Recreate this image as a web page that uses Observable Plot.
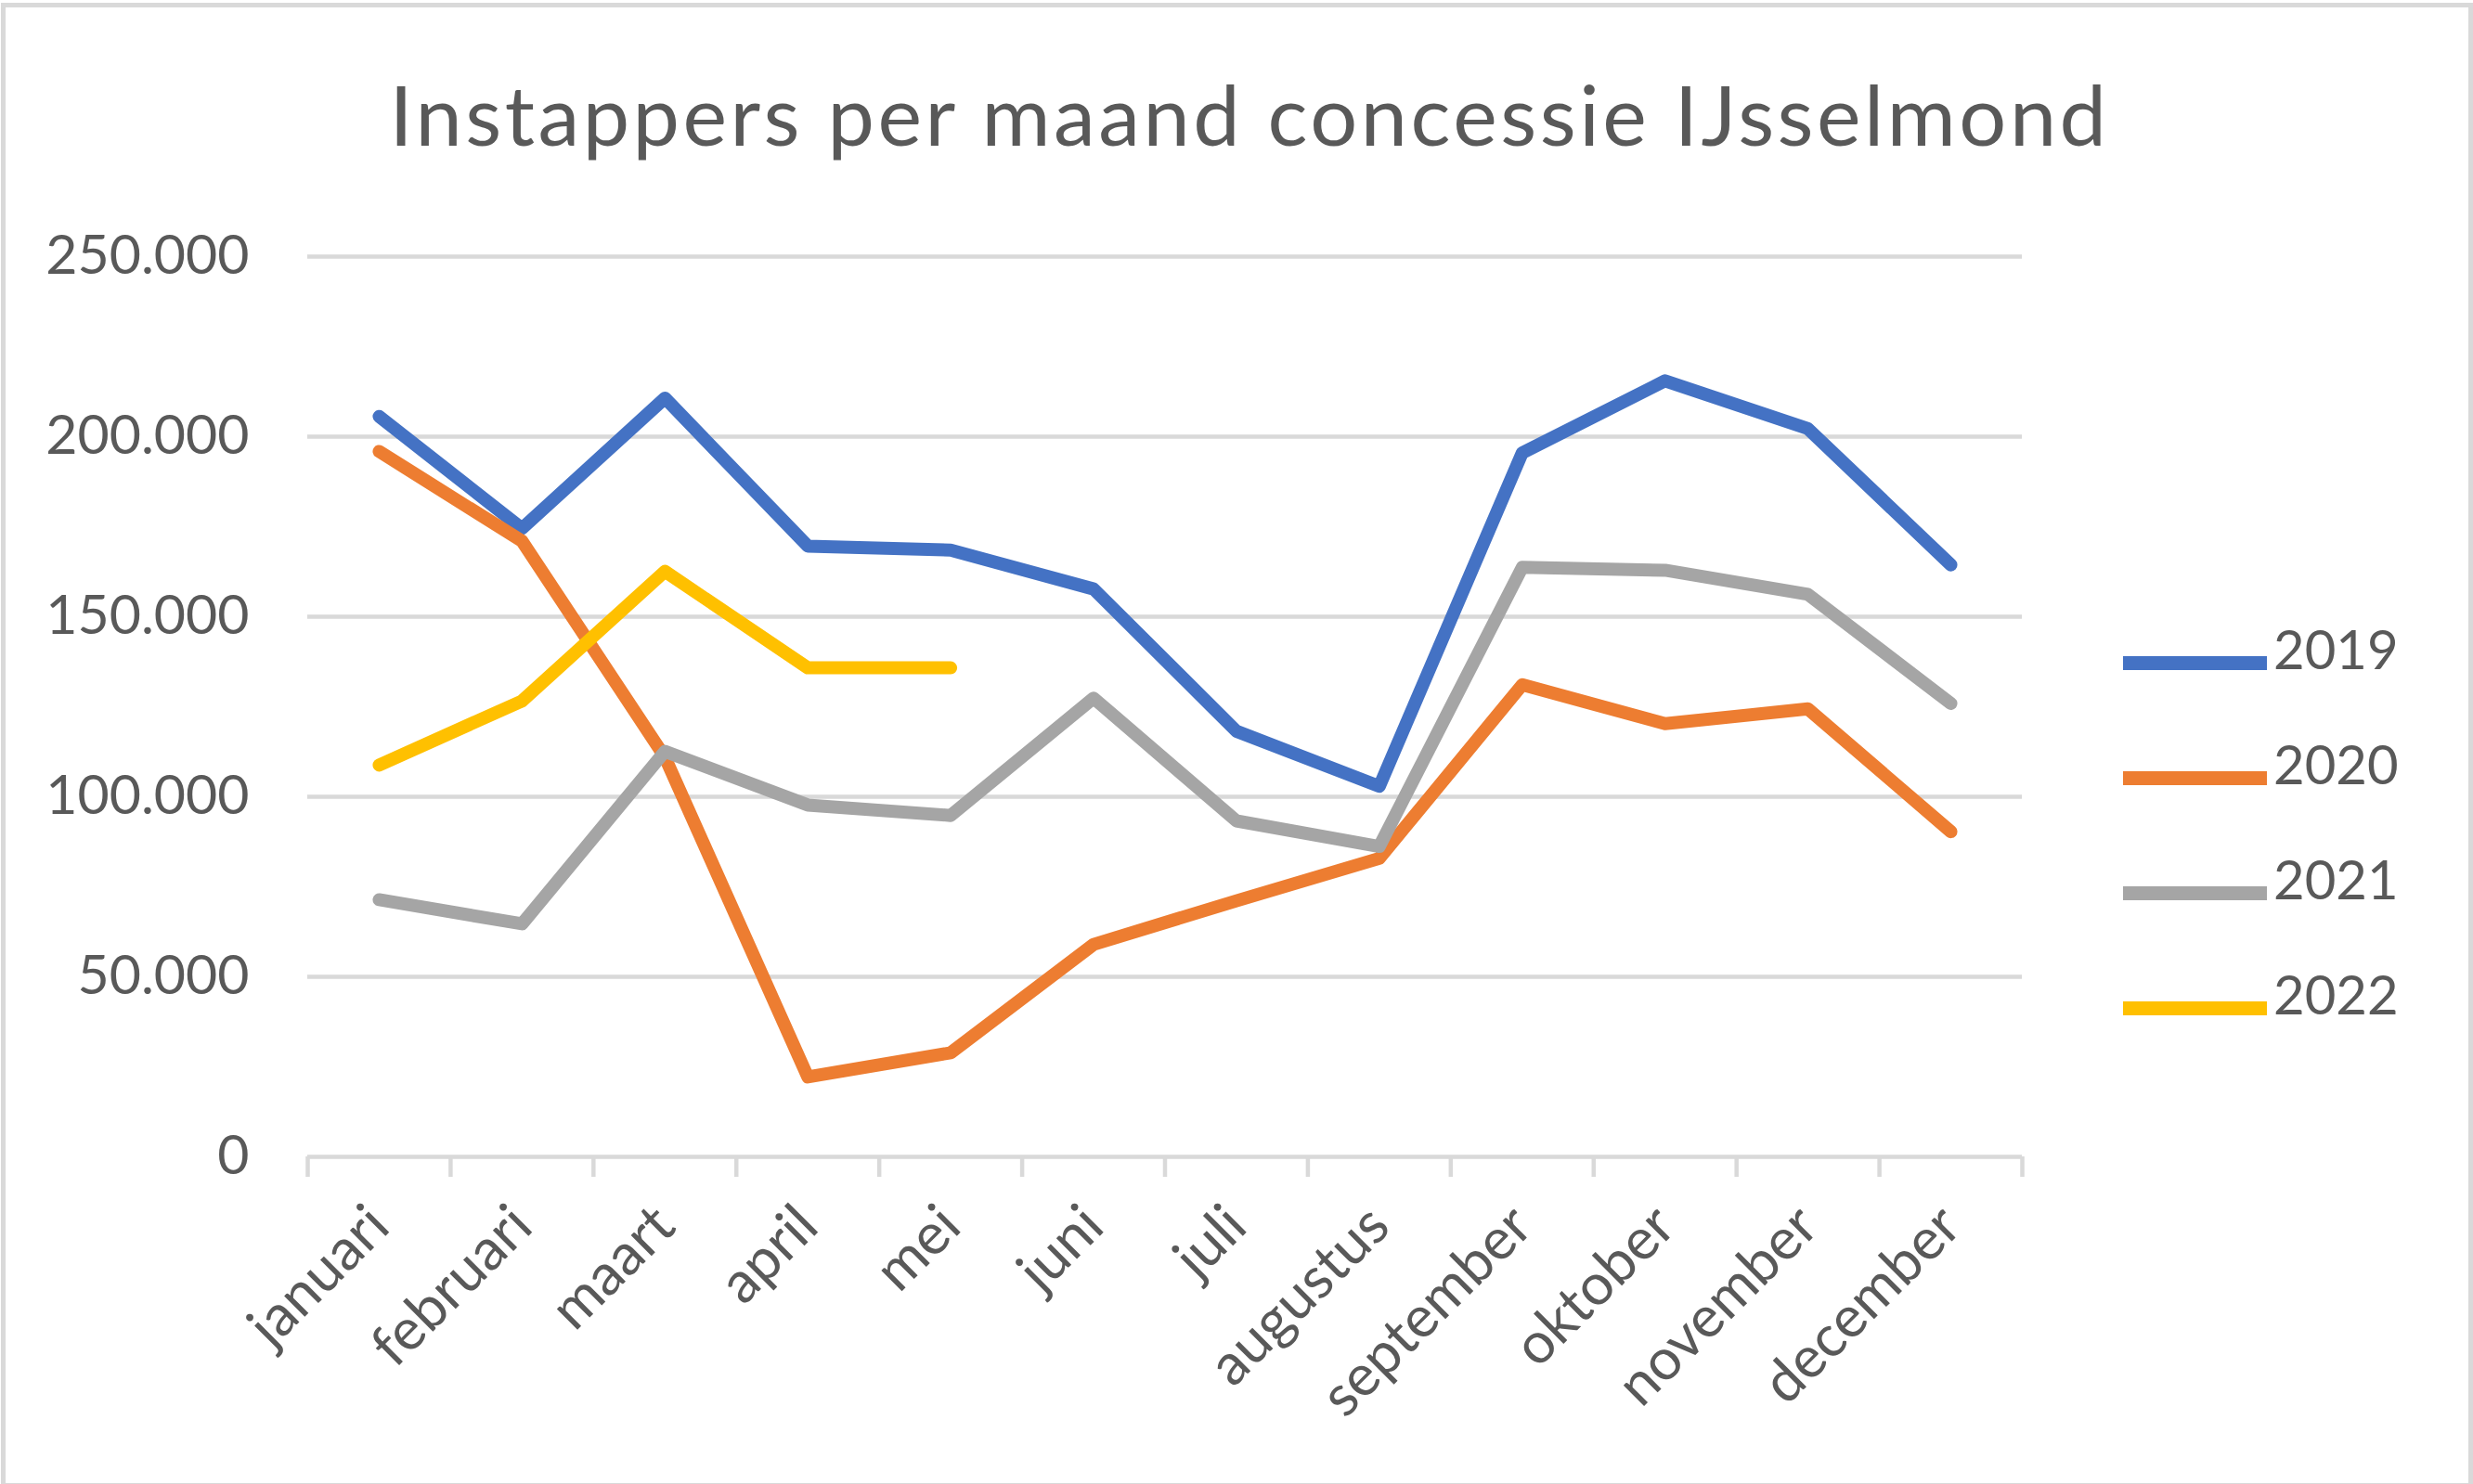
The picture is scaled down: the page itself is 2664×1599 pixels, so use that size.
<!DOCTYPE html>
<html><head><meta charset="utf-8">
<script src="https://cdn.jsdelivr.net/npm/d3@7"></script>
<script src="https://cdn.jsdelivr.net/npm/@observablehq/plot@0.6"></script>
<style>
html,body{margin:0;padding:0;background:#fff;}
#chart{position:relative;width:2664px;height:1599px;overflow:hidden;font-family:Lato,"Open Sans",sans-serif;color:#595959;}
#frame{position:absolute;left:1px;top:3px;width:2663px;height:1600px;border:5px solid #d9d9d9;box-sizing:border-box;}
#title{position:absolute;left:14px;width:2664px;text-align:center;top:77px;font-size:90px;line-height:90px;letter-spacing:3.5px;white-space:nowrap;}
#plot{position:absolute;left:0;top:0;}
.legline{position:absolute;height:15px;}
.legtext{position:absolute;font-size:58px;line-height:58px;}
</style>
</head><body>
<div id="chart">
  <div id="frame"></div>
  <div id="title">Instappers per maand concessie IJsselmond</div>
  <div id="plot"></div>
</div>
<script>
const months = ["januari","februari","maart","april","mei","juni","juli","augustus","september","oktober","november","december"];
const years = ["2019","2020","2021","2022"];
const v2019 = [205600,174500,210700,169600,168500,157700,118200,102900,195500,215500,202200,164400];
const v2020 = [195900,171000,111000,22200,28900,59000,71100,82900,131100,120300,124400,90300];
const v2021 = [71400,64700,112600,97700,94800,127400,93300,86200,163700,162900,156200,125900];
const v2022 = [108800,126600,162600,135800,135800];
const colors = ["#4472C4","#ED7D31","#A5A5A5","#FFC000"];
const yTicks = [0,50000,100000,150000,200000,250000];

const seriesValues = [v2019, v2020, v2021, v2022];
const data = [];
years.forEach((yr, s) => seriesValues[s].forEach((v, i) => data.push({year: yr, month: months[i], idx: i + 0.5, value: v})));

const fmt = d3.formatLocale({decimal: ",", thousands: ".", grouping: [3], currency: ["", ""]}).format(",d");

const chart = Plot.plot({
  width: 2664, height: 1599,
  marginLeft: 331, marginRight: 486, marginTop: 276, marginBottom: 353,
  style: {fontFamily: "Lato, 'Open Sans', sans-serif", fontSize: "59px", color: "#595959", background: "transparent", overflow: "visible"},
  x: {domain: [0, 12], axis: null},
  y: {domain: [0, 250000], axis: null},
  color: {domain: years, range: colors},
  marks: [
    Plot.gridY(yTicks, {stroke: "#d9d9d9", strokeOpacity: 1, strokeWidth: 4.5}),
    Plot.axisY(yTicks, {tickSize: 0, tickPadding: 63, tickFormat: fmt, fontSize: 59, fill: "#595959", label: null}),
    Plot.axisX(d3.range(13), {tickSize: 22, stroke: "#d9d9d9", strokeOpacity: 1, strokeWidth: 4.5, tickFormat: () => "", label: null}),
    Plot.axisX(months.map((m, i) => i + 0.5), {tickSize: 0, tickRotate: -45, tickPadding: 64, fontSize: 62, fill: "#595959", tickFormat: d => months[Math.floor(d)], label: null}),
    Plot.lineY(data, {x: "idx", y: "value", stroke: "year", z: "year", strokeWidth: 14, strokeLinejoin: "round", strokeLinecap: "round"})
  ]
});
document.getElementById("plot").appendChild(chart);

const chartDiv = document.getElementById("chart");
years.forEach((yr, s) => {
  const cy = 714 + s * 124;
  const ln = document.createElement("div");
  ln.className = "legline";
  ln.style.left = "2287px"; ln.style.width = "155px";
  ln.style.top = (cy - 7.5) + "px";
  ln.style.background = colors[s];
  chartDiv.appendChild(ln);
  const tx = document.createElement("div");
  tx.className = "legtext";
  tx.style.left = "2449px";
  tx.style.top = (cy + 7 - 51) + "px";
  tx.textContent = yr;
  chartDiv.appendChild(tx);
});
</script>
</body></html>
